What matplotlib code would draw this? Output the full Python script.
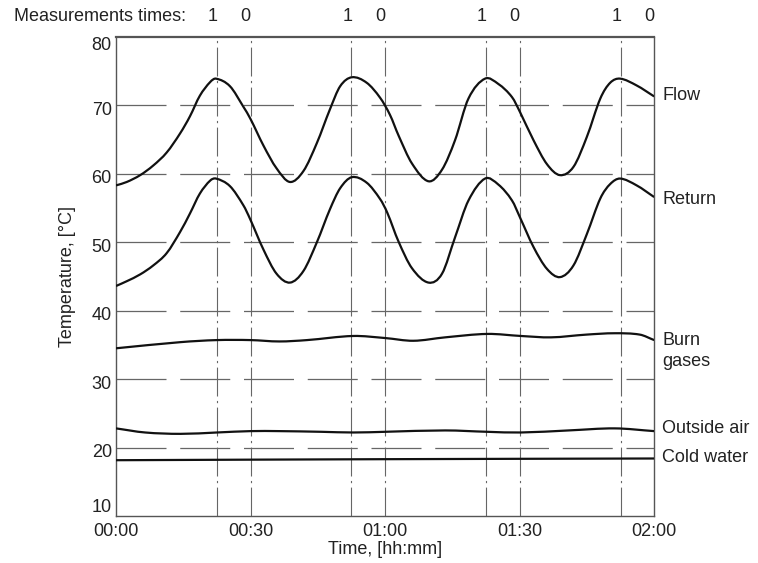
import matplotlib
matplotlib.use("Agg")
import matplotlib.pyplot as plt
from matplotlib.path import Path
from matplotlib.patches import PathPatch
import matplotlib.transforms as mtransforms

plt.rcParams['font.family'] = ['Liberation Sans', 'DejaVu Sans']

# time in minutes from 00:00
flow_t = [0, 2.4, 5.4, 8.3, 11.3, 14.3, 16.5, 18.7, 21.0, 22.3, 25.4, 28.4,
          30.0, 32.9, 35.8, 38.8, 41.8, 44.8, 47.7, 50.0, 52.6, 55.9, 58.9,
          61.1, 63.0, 66.0, 69.7, 72.7, 75.6, 78.6, 82.3, 85.3, 88.3, 90.1,
          93.1, 96.1, 99.0, 102.0, 105.0, 108.0, 110.2, 112.4, 116.1, 120]
flow = [58.3, 58.8, 59.8, 61.2, 63.1, 65.9, 68.4, 71.4, 73.4, 73.9, 72.8, 69.8,
        68.0, 64.1, 60.8, 58.8, 60.4, 64.5, 69.4, 72.8, 74.1, 73.3, 71.1,
        68.6, 65.6, 61.5, 58.9, 60.6, 64.9, 71.0, 73.9, 73.1, 71.2, 69.0,
        64.9, 61.4, 59.8, 61.0, 65.4, 71.0, 73.3, 73.9, 72.9, 71.3]

ret_t = [0, 2.4, 5.4, 8.3, 11.3, 14.3, 16.5, 18.7, 21.0, 22.3, 25.4, 28.4,
         29.9, 32.9, 35.8, 38.8, 41.8, 44.8, 47.7, 50.0, 52.6, 55.9, 58.9,
         60.5, 63.0, 66.0, 69.7, 72.7, 75.6, 78.6, 82.3, 85.3, 88.3, 90.1,
         93.1, 96.1, 99.0, 102.0, 105.0, 108.0, 110.2, 112.4, 116.1, 120]
ret = [43.6, 44.3, 45.3, 46.6, 48.4, 51.5, 54.2, 57.1, 59.0, 59.3, 58.2, 55.4,
       53.4, 48.9, 45.4, 44.1, 45.8, 50.0, 54.8, 57.9, 59.5, 58.7, 56.3,
       54.3, 50.1, 46.2, 44.1, 45.4, 50.7, 56.1, 59.3, 58.4, 56.1, 53.6,
       49.3, 46.1, 44.9, 46.6, 51.2, 56.4, 58.5, 59.3, 58.3, 56.6]

burn_t = [0, 14.4, 22.5, 30.0, 36.4, 42.6, 52.9, 60.0, 66.3, 73.4, 82.8,
          90.3, 97.0, 104.9, 111.2, 116.8, 120]
burn = [34.5, 35.4, 35.7, 35.7, 35.5, 35.7, 36.3, 36.0, 35.6, 36.1, 36.6,
        36.3, 36.1, 36.5, 36.7, 36.5, 35.7]

air_t = [0, 6.5, 14.4, 22.5, 30.0, 36.4, 45.8, 52.9, 60.0, 73.4, 82.8,
         90.3, 100.9, 111.2, 120]
air = [22.8, 22.2, 22.0, 22.2, 22.4, 22.4, 22.3, 22.2, 22.3, 22.5, 22.3,
       22.2, 22.5, 22.8, 22.4]

cold_t = [0, 60, 120]
cold = [18.15, 18.3, 18.4]

meas_on = [22.5, 52.5, 82.5, 112.5]
meas_off = [30, 60, 90, 120]

x_ticks = [0, 30, 60, 90, 120]
x_labels = ['00:00', '00:30', '01:00', '01:30', '02:00']
y_ticks = [10, 20, 30, 40, 50, 60, 70, 80]

labels = ['Flow', 'Return', 'Burn\ngases', 'Outside air', 'Cold water']
label_y = [71.5, 56.2, 34.1, 22.8, 18.6]


def smooth_path(t, v):
    # cubic Hermite through the read points, drawn as Bezier segments
    n = len(t)
    m = []
    for i in range(n):
        a, b = max(i - 1, 0), min(i + 1, n - 1)
        m.append((v[b] - v[a]) / (t[b] - t[a]))
    verts = [(t[0], v[0])]
    codes = [Path.MOVETO]
    for i in range(n - 1):
        h = t[i + 1] - t[i]
        verts += [(t[i] + h / 3, v[i] + m[i] * h / 3),
                  (t[i + 1] - h / 3, v[i + 1] - m[i + 1] * h / 3),
                  (t[i + 1], v[i + 1])]
        codes += [Path.CURVE4] * 3
    return Path(verts, codes)


fig = plt.figure(figsize=(7.58, 5.63), dpi=100)
ax = fig.add_axes([0.153, 0.0835, 0.710, 0.851])

ink = '#111111'
grid_c = '#666666'
txt_c = '#222222'

for y in [20, 30, 40, 50, 60, 70]:
    ax.axhline(y, color=grid_c, lw=0.9, dashes=(40, 11), zorder=1)
for x in meas_on + meas_off[:-1]:
    ax.axvline(x, color=grid_c, lw=0.8, dashes=(26, 4, 2, 4), zorder=1)

for t, v in [(flow_t, flow), (ret_t, ret), (burn_t, burn), (air_t, air),
             (cold_t, cold)]:
    ax.add_patch(PathPatch(smooth_path(t, v), fill=False, edgecolor=ink,
                           lw=1.6, zorder=3, capstyle='butt'))

ax.set_xlim(0, 120)
ax.set_ylim(10, 80)
ax.set_xticks(x_ticks)
ax.set_xticklabels(x_labels)
ax.set_yticks(y_ticks)
ax.tick_params(length=0, labelsize=13, colors=txt_c)
ax.tick_params(axis='x', pad=5)
ax.tick_params(axis='y', pad=3)
ylabs = ax.get_yticklabels()
ylabs[0].set_va('bottom')
ylabs[-1].set_va('top')
for lab in ylabs[1:-1]:
    lab.set_transform(lab.get_transform() +
                      mtransforms.ScaledTranslation(0, -3 / 100, fig.dpi_scale_trans))
for s in ax.spines.values():
    s.set_color('#555555')
    s.set_linewidth(1.0)
ax.spines['top'].set_linewidth(1.6)

ax.set_xlabel('Time, [hh:mm]', fontsize=13, color=txt_c)
ax.xaxis.set_label_coords(0.5, -0.052)
ax.set_ylabel('Temperature, [°C]', fontsize=13, color=txt_c)
ax.yaxis.set_label_coords(-0.074, 0.5)

# curve names on the right
for txt, y in zip(labels, label_y):
    ax.text(1.015, y, txt, transform=ax.get_yaxis_transform(), fontsize=13,
            color=txt_c, va='center', ha='left', linespacing=1.25)

# measurement times along the top
fig.text(0.018, 0.97, 'Measurements times:', fontsize=13, color=txt_c,
         va='center', ha='left')
for x in meas_on:
    ax.annotate('1', xy=(x, 1.0), xycoords=('data', 'axes fraction'),
                xytext=(-4, 20), textcoords='offset pixels', fontsize=13,
                ha='center', va='center', color=txt_c)
for x in meas_off:
    ax.annotate('0', xy=(x, 1.0), xycoords=('data', 'axes fraction'),
                xytext=(-5, 20), textcoords='offset pixels', fontsize=13,
                ha='center', va='center', color=txt_c)

fig.savefig('out.png', dpi=100)
